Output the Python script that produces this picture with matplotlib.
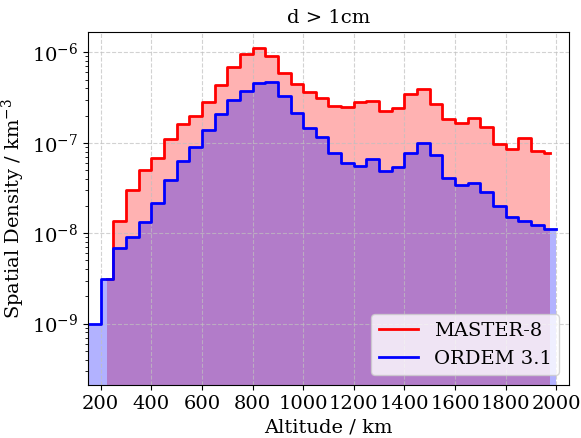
import numpy as np
import matplotlib
matplotlib.use("Agg")
import matplotlib.pyplot as plt

plt.rcParams['font.family'] = 'DejaVu Serif'
plt.rcParams['mathtext.fontset'] = 'dejavuserif'

# MASTER-8: bin centres (km), drawn as mid steps
master_alt = np.arange(225, 2000, 50)
# ORDEM 3.1: bin edges (km)
ordem_edges = np.arange(150, 2001, 50)

# spatial density (km^-3)
master = [3.1e-9, 1.35e-8, 3.02e-8, 5.02e-8, 6.87e-8, 1.10e-7, 1.60e-7, 2.0e-7,
          2.85e-7, 4.36e-7, 6.83e-7, 9.5e-7, 1.11e-6, 9.2e-7, 5.95e-7, 4.5e-7,
          3.67e-7, 3.1e-7, 2.58e-7, 2.51e-7, 2.8e-7, 2.92e-7, 2.27e-7, 2.45e-7,
          3.44e-7, 3.97e-7, 2.69e-7, 1.82e-7, 1.64e-7, 1.87e-7, 1.49e-7, 9.65e-8,
          8.5e-8, 1.14e-7, 8.2e-8, 7.8e-8]
ordem = [1.0e-9, 3.12e-9, 6.87e-9, 9.08e-9, 1.33e-8, 2.15e-8, 3.83e-8, 6.36e-8,
         9.08e-8, 1.39e-7, 2.07e-7, 2.98e-7, 3.77e-7, 4.55e-7, 4.67e-7, 3.3e-7,
         2.12e-7, 1.44e-7, 1.15e-7, 7.8e-8, 5.95e-8, 5.56e-8, 6.6e-8, 4.93e-8,
         5.37e-8, 7.8e-8, 9.9e-8, 7.3e-8, 4.07e-8, 3.4e-8, 3.58e-8, 2.87e-8,
         1.98e-8, 1.53e-8, 1.38e-8, 1.22e-8, 1.12e-8]

fig = plt.figure(figsize=(5.81, 4.38), dpi=100)
ax = fig.add_axes([0.1515, 0.121, 0.8278, 0.8066])

ordem_y = ordem + [ordem[-1]]

ax.fill_between(master_alt, master, 1e-12, step='mid', color='red', alpha=0.3, lw=0)
ax.fill_between(ordem_edges, ordem_y, 1e-12, step='post', color='blue', alpha=0.3, lw=0)
ax.step(master_alt, master, where='mid', color='red', lw=2, label='MASTER-8')
ax.step(ordem_edges, ordem_y, where='post', color='blue', lw=2, label='ORDEM 3.1')

ax.set_yscale('log')
ax.set_xlim(150, 2050)
ax.set_ylim(2.1e-10, 1.69e-6)
ax.set_xticks(np.arange(200, 2001, 200))
ax.grid(True, ls='--', color='silver', alpha=0.7)
ax.tick_params(labelsize=14)

ax.set_title('d > 1cm', fontsize=14)
ax.set_xlabel('Altitude / km', fontsize=14)
ax.set_ylabel('Spatial Density / km$^{-3}$', fontsize=14)
ax.legend(loc='lower right', fontsize=14)

fig.savefig('out.png', dpi=100)
